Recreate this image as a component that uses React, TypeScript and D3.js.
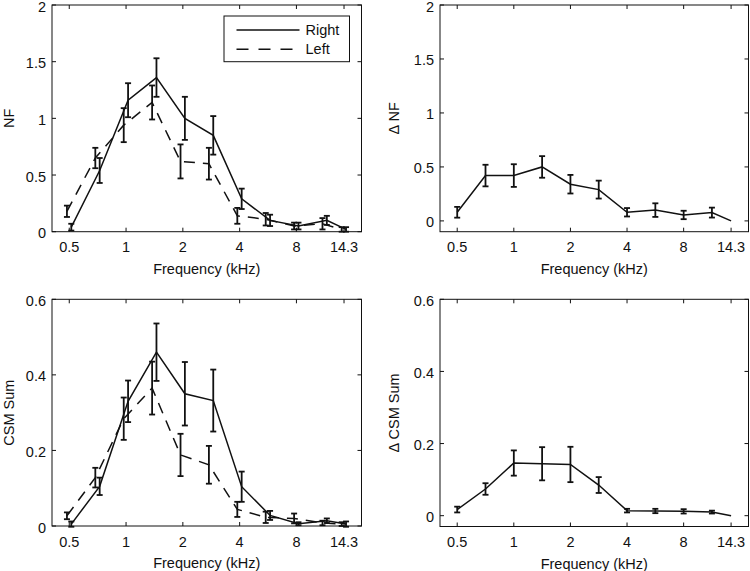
import React from "react";
import * as d3 from "d3";

const freqs = [0.5, 0.707, 1, 1.414, 2, 2.828, 4, 5.657, 8, 11.31, 14.3];
const xTickValues = [0.5, 1, 2, 4, 8, 14.3];
const xTickLabels = ["0.5", "1", "2", "4", "8", "14.3"];

const nfRight = [0.04, 0.54, 1.16, 1.36, 1.0, 0.85, 0.29, 0.1, 0.05, 0.1, 0.02];
const nfRightErr = [0.03, 0.11, 0.15, 0.17, 0.19, 0.17, 0.09, 0.05, 0.03, 0.04, 0.02];
const nfLeft = [0.18, 0.65, 0.94, 1.14, 0.62, 0.6, 0.14, 0.11, 0.05, 0.07, 0.02];
const nfLeftErr = [0.05, 0.09, 0.15, 0.15, 0.15, 0.14, 0.07, 0.055, 0.03, 0.05, 0.02];

const dNF = [0.08, 0.42, 0.42, 0.5, 0.34, 0.29, 0.08, 0.1, 0.055, 0.077, 0];
const dNFErr = [0.05, 0.1, 0.105, 0.1, 0.086, 0.083, 0.039, 0.063, 0.039, 0.046, 0];

const csmRight = [0.005, 0.105, 0.33, 0.46, 0.35, 0.332, 0.104, 0.028, 0.006, 0.014, 0.005];
const csmRightErr = [0.007, 0.023, 0.055, 0.076, 0.084, 0.082, 0.04, 0.012, 0.004, 0.006, 0.007];
const csmLeft = [0.027, 0.128, 0.284, 0.365, 0.188, 0.162, 0.044, 0.023, 0.02, 0.008, 0.005];
const csmLeftErr = [0.009, 0.026, 0.056, 0.07, 0.056, 0.05, 0.02, 0.015, 0.013, 0.006, 0.005];

const dCSM = [0.017, 0.074, 0.146, 0.144, 0.142, 0.085, 0.014, 0.013, 0.012, 0.01, 0];
const dCSMErr = [0.008, 0.016, 0.035, 0.046, 0.049, 0.022, 0.005, 0.006, 0.006, 0.004, 0];

const nfTicks = [0, 0.5, 1, 1.5, 2];
const nfTickLabels = ["0", "0.5", "1", "1.5", "2"];
const csmTicks = [0, 0.2, 0.4, 0.6];
const csmTickLabels = ["0", "0.2", "0.4", "0.6"];

const FONT = "'Liberation Sans', Arial, Helvetica, sans-serif";
const FS = 14.5;
const INK = "#111";

type Series = { values: number[]; errs: number[]; dashed: boolean; shift: number };

function Panel(props: {
  x0: number; x1: number; y0: number; y1: number;
  ydomain: [number, number]; yticks: number[]; ytickLabels: string[];
  ylabel: string; ylabelX: number; series: Series[]; legend?: boolean;
}) {
  const { x0, x1, y0, y1, ydomain, yticks, ytickLabels, ylabel, ylabelX, series, legend } = props;
  const x = d3.scaleLog().domain([0.405, 17.7]).range([x0, x1]);
  const y = d3.scaleLinear().domain(ydomain).range([y1, y0]);
  const tl = 4;
  const cap = 3;
  return (
    <g>
      {series.map((s, si) => {
        const pts = freqs.map((f, i) => [x(f * s.shift), y(s.values[i])] as [number, number]);
        const path = d3.line()(pts) || "";
        return (
          <g key={si}>
            <path d={path} fill="none" stroke={INK} strokeWidth={1.5}
              strokeDasharray={s.dashed ? "11,8" : undefined} />
            {freqs.map((f, i) => {
              if (s.errs[i] <= 0) return null;
              const cx = x(f * s.shift);
              const ya = y(s.values[i] + s.errs[i]);
              const yb = y(s.values[i] - s.errs[i]);
              return (
                <g key={i} stroke={INK} strokeWidth={1.8}>
                  <line x1={cx} x2={cx} y1={ya} y2={yb} />
                  <line x1={cx - cap} x2={cx + cap} y1={ya} y2={ya} />
                  <line x1={cx - cap} x2={cx + cap} y1={yb} y2={yb} />
                </g>
              );
            })}
          </g>
        );
      })}
      <rect x={x0} y={y0} width={x1 - x0} height={y1 - y0} fill="none" stroke={INK} strokeWidth={1} />
      {xTickValues.map((t, i) => (
        <g key={"xt" + i}>
          <line x1={x(t)} x2={x(t)} y1={y1} y2={y1 - tl} stroke={INK} strokeWidth={1} />
          <line x1={x(t)} x2={x(t)} y1={y0} y2={y0 + tl} stroke={INK} strokeWidth={1} />
          <text x={x(t)} y={y1 + 20.5} textAnchor="middle" fontFamily={FONT} fontSize={FS} fill={INK}>
            {xTickLabels[i]}
          </text>
        </g>
      ))}
      {yticks.map((t, i) => (
        <g key={"yt" + i}>
          <line x1={x0} x2={x0 + tl} y1={y(t)} y2={y(t)} stroke={INK} strokeWidth={1} />
          <line x1={x1} x2={x1 - tl} y1={y(t)} y2={y(t)} stroke={INK} strokeWidth={1} />
          <text x={x0 - 6} y={y(t) + 6.5} textAnchor="end" fontFamily={FONT} fontSize={FS} fill={INK}>
            {ytickLabels[i]}
          </text>
        </g>
      ))}
      <text x={(x0 + x1) / 2} y={y1 + 42} textAnchor="middle" fontFamily={FONT} fontSize={FS} fill={INK}>
        Frequency (kHz)
      </text>
      <text transform={`translate(${ylabelX},${(y0 + y1) / 2}) rotate(-90)`} textAnchor="middle"
        fontFamily={FONT} fontSize={FS} fill={INK}>
        {ylabel}
      </text>
      {legend && (
        <g>
          <rect x={x1 - 137.5} y={y0 + 11} width={125.5} height={45.7} fill="#fff" stroke={INK} strokeWidth={1} />
          <line x1={x1 - 125} x2={x1 - 62} y1={y0 + 25} y2={y0 + 25} stroke={INK} strokeWidth={1.5} />
          <line x1={x1 - 125} x2={x1 - 62} y1={y0 + 44.3} y2={y0 + 44.3} stroke={INK} strokeWidth={1.5}
            strokeDasharray="12,10" />
          <text x={x1 - 56} y={y0 + 30} fontFamily={FONT} fontSize={FS} fill={INK}>Right</text>
          <text x={x1 - 56} y={y0 + 49.3} fontFamily={FONT} fontSize={FS} fill={INK}>Left</text>
        </g>
      )}
    </g>
  );
}

export default function App() {
  const rShift = 1.025;
  const lShift = 0.972;
  return (
    <svg width={750} height={571} style={{ position: "absolute", left: 0, top: 0, background: "#fff" }}>
      <rect x={0} y={0} width={750} height={571} fill="#fff" />
      <Panel x0={52} x1={361.5} y0={5} y1={231.7} ydomain={[0, 2]} yticks={nfTicks} ytickLabels={nfTickLabels}
        ylabel="NF" ylabelX={13.5} legend
        series={[
          { values: nfRight, errs: nfRightErr, dashed: false, shift: rShift },
          { values: nfLeft, errs: nfLeftErr, dashed: true, shift: lShift },
        ]} />
      <Panel x0={440} x1={748.5} y0={5} y1={231.7} ydomain={[-0.1, 2]} yticks={nfTicks} ytickLabels={nfTickLabels}
        ylabel="Δ NF" ylabelX={399}
        series={[{ values: dNF, errs: dNFErr, dashed: false, shift: 1 }]} />
      <Panel x0={52} x1={361.5} y0={299.3} y1={526} ydomain={[0, 0.6]} yticks={csmTicks} ytickLabels={csmTickLabels}
        ylabel="CSM Sum" ylabelX={13.5}
        series={[
          { values: csmRight, errs: csmRightErr, dashed: false, shift: rShift },
          { values: csmLeft, errs: csmLeftErr, dashed: true, shift: lShift },
        ]} />
      <Panel x0={440} x1={748.5} y0={299.3} y1={526.5} ydomain={[-0.03, 0.6]} yticks={csmTicks} ytickLabels={csmTickLabels}
        ylabel="Δ CSM Sum" ylabelX={399}
        series={[{ values: dCSM, errs: dCSMErr, dashed: false, shift: 1 }]} />
    </svg>
  );
}
